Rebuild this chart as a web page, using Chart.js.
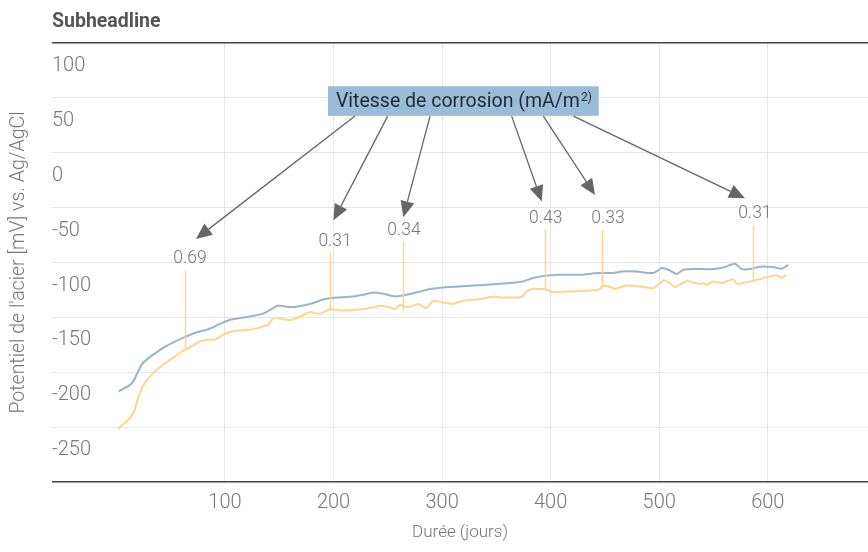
<!DOCTYPE html>
<html lang="fr">
<head>
<meta charset="UTF-8" />
<title>Potentiel de l'acier - Vitesse de corrosion</title>
<script src="https://cdn.jsdelivr.net/npm/chart.js"></script>
<style>
  html, body { margin: 0; background: #fff; font-family: 'Roboto', sans-serif; }
  #wrap { width: 868px; height: 552px; }
</style>
</head>
<body>
<div id="wrap"><canvas id="chart"></canvas></div>
<script>
  // potential of the steel (mV vs Ag/AgCl), two series
  const blueDays = [2, 11, 15.6, 18.7, 23.3, 27.9, 34, 43.2, 52.4, 63.2, 74, 83.2, 87.8, 95.4, 104.6, 113.9, 126.1, 135.3, 144.5, 149.1, 155.3, 163, 172.2, 181.4, 189.1, 196.8, 218.2, 227.4, 236.6, 245.9, 256.6, 267.4, 278.1, 288.9, 301.1, 325.7, 350.3, 371.8, 384, 394.8, 408.6, 427, 443.9, 457.7, 465.5, 479.3, 494.6, 502.3, 508.4, 516.1, 522.2, 534.5, 549.8, 559, 569.8, 576, 583.6, 594.4, 605.1, 612.8, 618.9];
  const blueMv = [-217.3, -212.7, -208.2, -202, -193, -188.5, -184, -177.8, -172.8, -167.8, -163.6, -161.2, -159.6, -156, -152.1, -150.6, -148.5, -146.6, -141.5, -139.1, -140, -140.5, -139.1, -136.9, -134.2, -132.4, -130.9, -129.4, -127.3, -128.5, -130.9, -129.4, -126.9, -124.2, -122.7, -121.2, -119.6, -117.8, -114.2, -112.1, -111.2, -111.2, -109.6, -109.6, -108.2, -108.2, -109.6, -105.1, -106.6, -110.5, -106.6, -106, -106, -104.5, -101.2, -106, -106, -103.6, -104.2, -105.7, -102.1];

  const yellowDays = [2, 7.9, 12.5, 16.5, 18.7, 21.7, 26.3, 34, 43.2, 54, 63.2, 69.4, 77, 84.7, 90.8, 98.5, 107.7, 123.1, 132.3, 139.9, 144.5, 149.1, 155.3, 163, 170.7, 178.3, 187.5, 196.8, 201.4, 209, 230.6, 242.8, 250.5, 256.6, 261.2, 265.8, 270.4, 278.1, 284.3, 287.3, 291.9, 301.1, 310.3, 319.5, 334.9, 347.2, 353.3, 373.3, 377.9, 384, 390.2, 396.4, 401, 417.8, 443.9, 449.1, 453.1, 459.3, 469.4, 482.3, 494.6, 503.8, 508.4, 514.6, 525.4, 531.4, 537.6, 540.6, 543.8, 549.8, 557.5, 568.2, 571.9, 586.6, 605.1, 609.7, 612.8, 616.8];
  const yellowMv = [-251.5, -246.1, -241.5, -235.5, -227.9, -218.8, -209.7, -200.6, -193, -185.5, -179.4, -176.4, -171.8, -170.3, -170.3, -165.7, -162.7, -161.2, -159.1, -156.6, -150.5, -150.5, -152, -152, -148.5, -145.1, -146.7, -142.4, -143, -143.6, -142.1, -139.4, -140.5, -142.4, -138.5, -140, -140.5, -137.8, -141.5, -140, -134.8, -136.4, -137.5, -134.8, -133.2, -131, -131.8, -131.5, -126.4, -123.9, -124.2, -124.8, -126.9, -126.4, -124.8, -121.2, -121.8, -123.9, -120.9, -121.8, -123.3, -116.6, -117.8, -122.4, -116.6, -118.2, -119.6, -118.8, -120.3, -117.3, -118.8, -115.2, -119.5, -116.6, -112.1, -112.1, -114.2, -111.2];

  const xTicks = [100, 200, 300, 400, 500, 600];
  const yTicks = [100, 50, 0, -50, -100, -150, -200, -250, -300];

  // corrosion rate markers (mA/m²), in data units
  const rateLabels = ['0.69', '0.31', '0.34', '0.43', '0.33', '0.31'];
  const rateDays = [63.2, 197.2, 264.3, 394.5, 447.6, 586.7];
  const rateTopMv = [-107.5, -90.9, -80.9, -70.3, -70.3, -66.4];
  const rateBottomMv = [-179.4, -143.9, -144.5, -125.2, -121.5, -116];
  const labelDays = [67.8, 201.4, 264.9, 395.5, 452.8, 588.2];
  const labelMv = [-96.9, -80.9, -71.2, -59.6, -59.6, -55.1];

  const arrowFromDays = [219.8, 249.9, 288.9, 364.1, 393.2, 420.9];
  const arrowFromMv = [33.4, 33.4, 33.4, 33.4, 33.4, 33.4];
  const arrowToDays = [73.3, 200, 264.3, 391.8, 440.9, 579];
  const arrowToMv = [-78.5, -61.6, -58.7, -44.5, -38.5, -41.5];

  const boxText = 'Vitesse de corrosion (mA/m';
  const boxSup = '2)';
  const boxDays = [194.9, 444.3];
  const boxMv = [60.6, 33.6];

  const BLUE = '#98b5ca';
  const YELLOW = '#fdd68e';
  const GREY = '#777';

  const annotations = {
    id: 'annotations',
    afterDatasetsDraw(chart) {
      const { ctx, scales: { x, y } } = chart;
      ctx.save();

      ctx.strokeStyle = YELLOW;
      ctx.lineWidth = 1.5;
      rateDays.forEach((d, i) => {
        const px = Math.round(x.getPixelForValue(d)) + 0.5;
        ctx.beginPath();
        ctx.moveTo(px, y.getPixelForValue(rateTopMv[i]));
        ctx.lineTo(px, y.getPixelForValue(rateBottomMv[i]));
        ctx.stroke();
      });

      ctx.fillStyle = GREY;
      ctx.font = '300 17.5px Roboto';
      ctx.textAlign = 'center';
      ctx.textBaseline = 'middle';
      rateLabels.forEach((t, i) => {
        ctx.fillText(t, x.getPixelForValue(labelDays[i]), y.getPixelForValue(labelMv[i]));
      });

      // arrows from the box to each label
      ctx.strokeStyle = '#666';
      ctx.fillStyle = '#666';
      ctx.lineWidth = 1.3;
      arrowFromDays.forEach((d, i) => {
        const x0 = x.getPixelForValue(d), y0 = y.getPixelForValue(arrowFromMv[i]);
        const x1 = x.getPixelForValue(arrowToDays[i]), y1 = y.getPixelForValue(arrowToMv[i]);
        const a = Math.atan2(y1 - y0, x1 - x0);
        const len = 16, half = 7;
        const bx = x1 - len * Math.cos(a), by = y1 - len * Math.sin(a);
        ctx.beginPath();
        ctx.moveTo(x0, y0);
        ctx.lineTo(bx, by);
        ctx.stroke();
        ctx.beginPath();
        ctx.moveTo(x1, y1);
        ctx.lineTo(bx + half * Math.sin(a), by - half * Math.cos(a));
        ctx.lineTo(bx - half * Math.sin(a), by + half * Math.cos(a));
        ctx.closePath();
        ctx.fill();
      });

      const bl = x.getPixelForValue(boxDays[0]), br = x.getPixelForValue(boxDays[1]);
      const bt = y.getPixelForValue(boxMv[0]), bb = y.getPixelForValue(boxMv[1]);
      ctx.fillStyle = '#9bbcd9';
      ctx.fillRect(bl, bt, br - bl, bb - bt);
      ctx.fillStyle = '#1f2b38';
      const mainFont = '400 19.5px Roboto', supFont = '400 12px Roboto';
      ctx.font = mainFont;
      const w1 = ctx.measureText(boxText).width;
      ctx.font = supFont;
      const w2 = ctx.measureText(boxSup).width;
      const tx = (bl + br) / 2 - (w1 + w2) / 2, ty = (bt + bb) / 2 + 1;
      ctx.textAlign = 'left';
      ctx.font = mainFont;
      ctx.fillText(boxText, tx, ty);
      ctx.font = supFont;
      ctx.fillText(boxSup, tx + w1 + 1, ty - 4);

      ctx.restore();
    },
    afterDraw(chart) {
      const { ctx, chartArea } = chart;
      ctx.save();
      ctx.fillStyle = '#555';
      ctx.font = 'bold 19.5px Roboto';
      ctx.textAlign = 'left';
      ctx.textBaseline = 'middle';
      ctx.fillText('Subheadline', chartArea.left, 22);
      ctx.restore();
    }
  };

  new Chart(document.getElementById('chart'), {
    type: 'line',
    data: {
      datasets: [
        {
          label: 'blue',
          data: blueDays.map((d, i) => ({ x: d, y: blueMv[i] })),
          borderColor: BLUE,
          borderWidth: 2,
          pointRadius: 0,
          tension: 0.2
        },
        {
          label: 'yellow',
          data: yellowDays.map((d, i) => ({ x: d, y: yellowMv[i] })),
          borderColor: YELLOW,
          borderWidth: 2,
          pointRadius: 0,
          tension: 0.2
        }
      ]
    },
    options: {
      responsive: true,
      maintainAspectRatio: false,
      animation: false,
      layout: { padding: { top: 43, left: 0, right: 0, bottom: 0 } },
      plugins: {
        legend: { display: false },
        tooltip: { enabled: false }
      },
      scales: {
        x: {
          type: 'linear',
          min: -59.3,
          max: 692.3,
          afterBuildTicks: s => { s.ticks = xTicks.map(v => ({ value: v })); },
          afterFit: s => { s.height = 70; },
          border: { display: false },
          grid: { color: '#e6e6e6', drawTicks: false },
          ticks: { color: GREY, padding: 9, font: { family: 'Roboto', size: 20, weight: '300' } },
          title: {
            display: true,
            text: 'Durée (jours)',
            color: GREY,
            font: { family: 'Roboto', size: 17, weight: '300' },
            padding: { top: 0, bottom: 9 }
          }
        },
        y: {
          min: -300,
          max: 100,
          afterBuildTicks: s => { s.ticks = yTicks.map(v => ({ value: v })); },
          afterFit: s => { s.width = 52; },
          border: { display: false },
          grid: {
            drawTicks: false,
            color: c => (c.tick && (c.tick.value === 100 || c.tick.value === -300)) ? '#444' : '#e6e6e6',
            lineWidth: c => (c.tick && (c.tick.value === 100 || c.tick.value === -300)) ? 1.5 : 1
          },
          ticks: {
            mirror: true,
            padding: 0,
            labelOffset: 23,
            color: GREY,
            font: { family: 'Roboto', size: 20, weight: '300' },
            callback: v => v === -300 ? '' : v
          },
          title: {
            display: true,
            text: "Potentiel de l'acier [mV] vs. Ag/AgCl",
            color: GREY,
            font: { family: 'Roboto', size: 19.5, weight: '300' },
            padding: { top: 7, bottom: 0 }
          }
        }
      }
    },
    plugins: [annotations]
  });
</script>
</body>
</html>
